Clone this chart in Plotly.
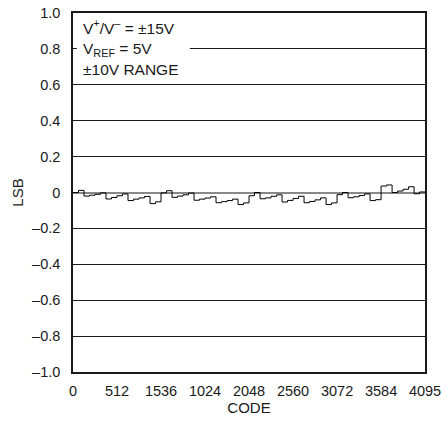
import plotly.graph_objects as go

# Codes at 64-code resolution (start of each step)
codes = list(range(0, 4096, 64)) + [4095]

# INL error in LSB, one value per 64-code step
inl = [
    0.000, 0.012,
    -0.020, -0.015, -0.010, -0.002,
    -0.036, -0.028, -0.018, -0.008,
    -0.045, -0.037, -0.030, -0.022,
    -0.062, -0.052,
    -0.002, 0.010,
    -0.027, -0.020, -0.013, -0.003,
    -0.043, -0.037, -0.031, -0.024,
    -0.057, -0.051, -0.045, -0.037,
    -0.067, -0.058,
    -0.018, 0.000,
    -0.035, -0.030, -0.021, -0.013,
    -0.053, -0.044, -0.033, -0.021,
    -0.057, -0.050, -0.041, -0.030,
    -0.067, -0.058,
    -0.012, 0.000,
    -0.029, -0.024, -0.017, -0.008,
    -0.045, -0.040,
    0.036, 0.042,
    0.000, 0.008, 0.018, 0.032,
    -0.007, 0.003,
]
inl = inl + [inl[-1]]

x_tickvals = [0, 512, 1024, 1536, 2048, 2560, 3072, 3584, 4095]
x_ticktext = ["0", "512", "1536", "1024", "2048", "2560", "3072", "3584", "4095"]
y_tickvals = [-1.0, -0.8, -0.6, -0.4, -0.2, 0.0, 0.2, 0.4, 0.6, 0.8, 1.0]
y_ticktext = ["–1.0", "–0.8", "–0.6", "–0.4", "–0.2", "0", "0.2", "0.4", "0.6", "0.8", "1.0"]

note_lines = ["V<sup>+</sup>/V<sup>–</sup> = ±15V", "V<sub>REF</sub> = 5V", "±10V RANGE"]

FONT = "Liberation Sans, Arial, sans-serif"

fig = go.Figure()
fig.add_trace(go.Scatter(
    x=codes, y=inl, mode="lines", line=dict(color="black", width=1, shape="hv"),
    showlegend=False, hoverinfo="skip",
))

fig.update_layout(
    width=446, height=424,
    margin=dict(l=73, r=21, t=13, b=52),
    paper_bgcolor="white", plot_bgcolor="white",
    font=dict(family=FONT, size=14, color="#1a1a1a"),
    xaxis=dict(
        range=[0, 4095], tickvals=x_tickvals, ticktext=x_ticktext,
        showgrid=False, zeroline=False, ticks="", showline=True, linecolor="#1a1a1a",
        linewidth=1.5, mirror=True, ticklabelstandoff=5, automargin=False,
        tickfont=dict(size=14.5),
        title=dict(text="CODE", standoff=4, font=dict(size=15)),
    ),
    yaxis=dict(
        range=[-1.0, 1.0], tickvals=y_tickvals, ticktext=y_ticktext,
        showgrid=True, gridcolor="#1a1a1a", gridwidth=1,
        zeroline=True, zerolinecolor="#888", zerolinewidth=2,
        ticks="", showline=True, linecolor="#1a1a1a", linewidth=1.5, mirror=True,
        ticklabelstandoff=8, automargin=False,
        tickfont=dict(size=14.5),
        title=dict(text="LSB", standoff=5, font=dict(size=15)),
    ),
)

# white box behind the condition notes (covers the 0.8 gridline)
fig.add_shape(type="rect", xref="paper", yref="paper",
              x0=0.011, x1=0.332, y0=0.808, y1=0.994,
              fillcolor="white", line=dict(width=0), layer="above")

for txt, yy in zip(note_lines, [0.962, 0.899, 0.843]):
    fig.add_annotation(
        xref="paper", yref="paper", x=0.024, y=yy, xanchor="left", yanchor="middle",
        align="left", showarrow=False, text=txt,
        font=dict(family=FONT, size=15.5, color="#1a1a1a"),
    )

fig.write_html("out.html", config={"displayModeBar": False},
               post_script="document.body.style.margin='0';")
